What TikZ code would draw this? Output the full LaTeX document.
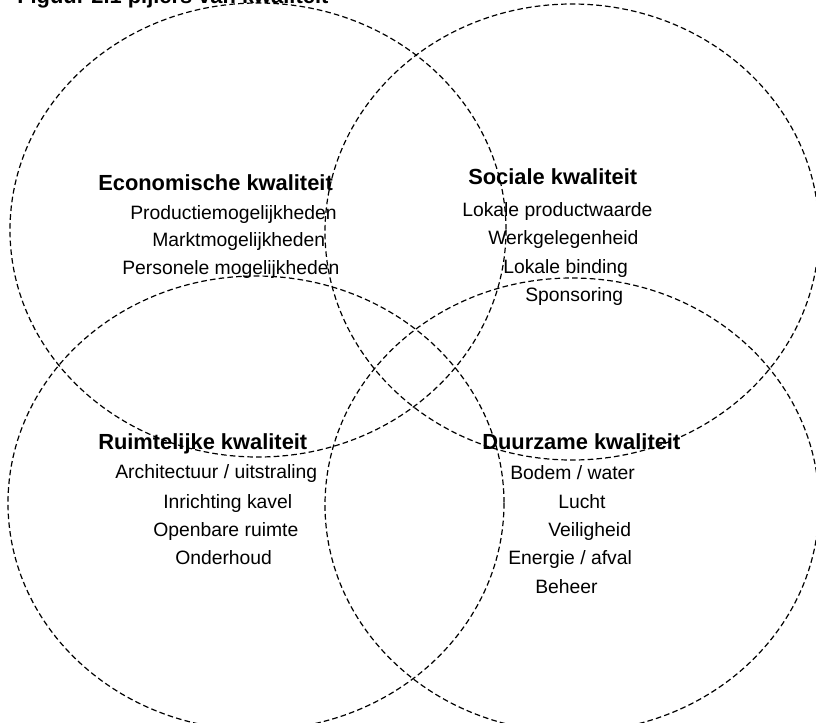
\documentclass[tikz,border=0pt]{standalone}
\usepackage{fontspec}
\setsansfont{Liberation Sans}
\usepackage{tikz}
\usetikzlibrary{positioning}
\definecolor{lineColor}{RGB}{0,0,0}
\tikzstyle{pillarLine} = [draw=lineColor, line width=0.9pt, dash pattern=on 4.2pt off 2.4pt]
\tikzstyle{pillarTitle} = [anchor=base west, inner sep=0pt, font=\sffamily\bfseries\fontsize{16.4}{18}\selectfont]
\tikzstyle{pillarItem} = [anchor=base west, inner sep=0pt, font=\sffamily\fontsize{14.5}{17}\selectfont]

\begin{document}
\begin{tikzpicture}[x=0.75pt, y=-0.75pt]
	\useasboundingbox (0,0) rectangle (816,722);
	
	% caption, cut off at the top of the page
	\node[pillarTitle](Caption) at (17,3){Figuur 2.1 pijlers van kwaliteit};
	
	% the four pillars
	\draw[pillarLine] (258,230) ellipse (248 and 227);
	\draw[pillarLine] (572,232) ellipse (247 and 228);
	\draw[pillarLine] (256,503) ellipse (248 and 227);
	\draw[pillarLine] (572,505) ellipse (247 and 227);
	
	\node[pillarTitle](Eco) at (98,190){Economische kwaliteit};
	\node[pillarItem](Eco-1) at (130,219){Productiemogelijkheden};
	\node[pillarItem](Eco-2) at (152,246){Marktmogelijkheden};
	\node[pillarItem](Eco-3) at (122,274){Personele mogelijkheden};
	
	\node[pillarTitle](Soc) at (468,184){Sociale kwaliteit};
	\node[pillarItem](Soc-1) at (462,216){Lokale productwaarde};
	\node[pillarItem](Soc-2) at (488,244){Werkgelegenheid};
	\node[pillarItem](Soc-3) at (503,273){Lokale binding};
	\node[pillarItem](Soc-4) at (525,301){Sponsoring};
	
	\node[pillarTitle](Ruim) at (98,449){Ruimtelijke kwaliteit};
	\node[pillarItem](Ruim-1) at (115,478){Architectuur / uitstraling};
	\node[pillarItem](Ruim-2) at (163,508){Inrichting kavel};
	\node[pillarItem](Ruim-3) at (153,536){Openbare ruimte};
	\node[pillarItem](Ruim-4) at (175,564){Onderhoud};
	
	\node[pillarTitle](Duur) at (482,449){Duurzame kwaliteit};
	\node[pillarItem](Duur-1) at (510,479){Bodem / water};
	\node[pillarItem](Duur-2) at (558,508){Lucht};
	\node[pillarItem](Duur-3) at (548,536){Veiligheid};
	\node[pillarItem](Duur-4) at (508,564){Energie / afval};
	\node[pillarItem](Duur-5) at (535,593){Beheer};

\end{tikzpicture}
\end{document}
